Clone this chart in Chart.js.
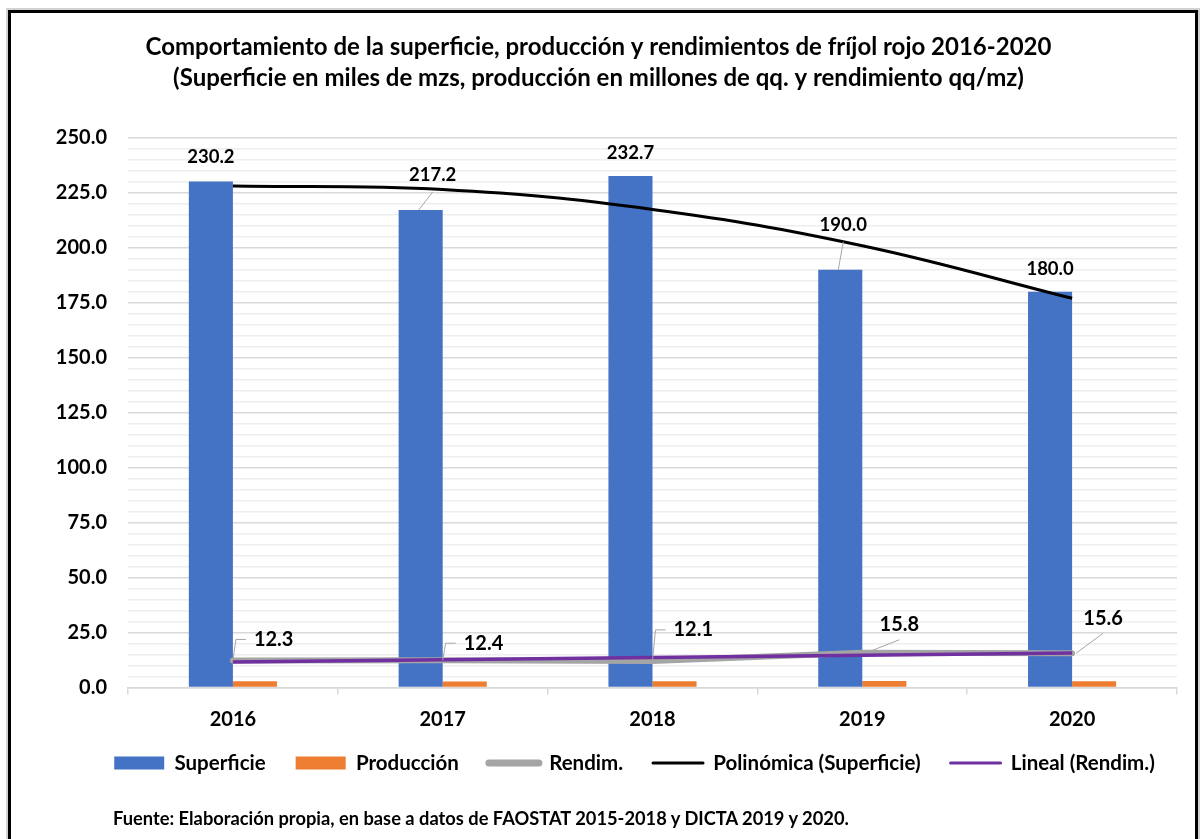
<!DOCTYPE html>
<html lang="es">
<head>
<meta charset="utf-8">
<title>Fríjol rojo 2016-2020</title>
<script src="https://cdn.jsdelivr.net/npm/chart.js@4.4.1/dist/chart.umd.min.js"></script>
<style>
  html, body { margin: 0; padding: 0; background: #fff; }
  body { width: 1201px; height: 839px; position: relative; overflow: hidden; font-family: Lato, sans-serif; }
  #marco { position: absolute; left: 8px; top: 10px; width: 1190px; height: 850px; border: 3px solid #000; box-sizing: border-box; box-shadow: 0 0 0 2px #d2d2d2; }
  #contenedor { position: absolute; left: 0; top: 0; width: 1201px; height: 839px; }
  #fuente { position: absolute; left: 113px; top: 808px; font-weight: bold; font-size: 18.3px; line-height: 20px; color: #000; white-space: nowrap; }
</style>
</head>
<body>
<div id="marco"></div>
<div id="contenedor"><canvas id="grafico"></canvas></div>
<div id="fuente">Fuente: Elaboración propia, en base a datos de FAOSTAT 2015-2018 y DICTA 2019 y 2020.</div>
<script>
// datos
const anios = ['2016', '2017', '2018', '2019', '2020'];
const superficie = [230.2, 217.2, 232.7, 190.0, 180.0];
const produccion = [2.8, 2.7, 2.8, 3.0, 2.8];
const rendimiento = [12.3, 12.4, 12.1, 15.8, 15.6];
const ejeYMin = 0;
const ejeYMax = 250;
const ejeYPaso = 25;

const titulo = [
  'Comportamiento de la superficie, producción y rendimientos de fríjol rojo 2016-2020',
  '(Superficie en miles de mzs, producción en millones de qq. y rendimiento qq/mz)'
];

// linea de tendencia por minimos cuadrados (como Excel), x = 1..n
function tendencia(y, grado) {
  const n = y.length, m = grado + 1;
  const A = [];
  for (let r = 0; r < m; r++) {
    const fila = [];
    for (let c = 0; c < m; c++) {
      let s = 0;
      for (let i = 0; i < n; i++) s += Math.pow(i + 1, r + c);
      fila.push(s);
    }
    let b = 0;
    for (let i = 0; i < n; i++) b += Math.pow(i + 1, r) * y[i];
    fila.push(b);
    A.push(fila);
  }
  for (let k = 0; k < m; k++) {
    for (let r = k + 1; r < m; r++) {
      const f = A[r][k] / A[k][k];
      for (let c = k; c <= m; c++) A[r][c] -= f * A[k][c];
    }
  }
  const coef = new Array(m).fill(0);
  for (let k = m - 1; k >= 0; k--) {
    let s = A[k][m];
    for (let c = k + 1; c < m; c++) s -= A[k][c] * coef[c];
    coef[k] = s / A[k][k];
  }
  return y.map((_, i) => coef.reduce((acc, a, p) => acc + a * Math.pow(i + 1, p), 0));
}

const tendSuperficie = tendencia(superficie, 2);
const tendRendimiento = tendencia(rendimiento, 1);

// ajustes de posicion de etiquetas (pixeles)
const posEtqSuperficie = [[0, -24, false], [12, -35, true], [0, -23, false], [3, -45, true], [0, -23, false]];
const posEtqRendim = [[21, -21, 'codo'], [21, -17, 'codo'], [21, -31, 'codo'], [37, -28, 'recta'], [31, -35, 'recta']];

const etiquetas = {
  id: 'etiquetas',
  afterDatasetsDraw(chart) {
    const ctx = chart.ctx;
    ctx.save();
    ctx.fillStyle = '#000';
    ctx.strokeStyle = '#a6a6a6';
    ctx.lineWidth = 1;

    ctx.font = 'bold 18.5px Lato';
    ctx.textAlign = 'center';
    ctx.textBaseline = 'middle';
    chart.getDatasetMeta(0).data.forEach((barra, i) => {
      const [dx, dy, guia] = posEtqSuperficie[i];
      const lx = barra.x + dx, ly = barra.y + dy;
      if (guia) {
        ctx.beginPath();
        ctx.moveTo(barra.x - 2, barra.y);
        ctx.lineTo(lx, ly + 17);
        ctx.stroke();
      }
      ctx.fillText(superficie[i].toFixed(1), lx, ly);
    });

    ctx.font = 'bold 20px Lato';
    chart.getDatasetMeta(2).data.forEach((p, i) => {
      const [dx, dy, tipo] = posEtqRendim[i];
      const ly = p.y + dy;
      ctx.beginPath();
      if (tipo === 'codo') {
        ctx.moveTo(p.x, p.y);
        ctx.lineTo(p.x + 3, ly);
        ctx.lineTo(p.x + 13, ly);
        ctx.stroke();
        ctx.textAlign = 'left';
        ctx.fillText(rendimiento[i].toFixed(1), p.x + dx, ly);
      } else {
        ctx.moveTo(p.x + 4, p.y);
        ctx.lineTo(p.x + dx, ly + 15);
        ctx.stroke();
        ctx.textAlign = 'center';
        ctx.fillText(rendimiento[i].toFixed(1), p.x + dx, ly);
      }
    });
    ctx.restore();
  }
};

// la leyenda de Excel no esta centrada con el titulo
const moverLeyenda = {
  id: 'moverLeyenda',
  afterLayout(chart) {
    const lg = chart.legend;
    lg.left += 36;
    lg.right += 36;
    const dy = 722.75 - lg.top;
    lg.top += dy;
    lg.bottom += dy;
  }
};

Chart.defaults.font.family = 'Lato';
Chart.defaults.font.weight = 'bold';
Chart.defaults.color = '#000';

new Chart(document.getElementById('grafico'), {
  type: 'bar',
  data: {
    labels: anios,
    datasets: [
      {
        label: 'Superficie',
        data: superficie,
        backgroundColor: '#4472C4',
        order: 10
      },
      {
        label: 'Producción',
        data: produccion,
        backgroundColor: '#ED7D31',
        order: 10
      },
      {
        type: 'line',
        label: 'Rendim.',
        data: rendimiento,
        borderColor: '#A5A5A5',
        borderWidth: 6,
        borderCapStyle: 'round',
        borderJoinStyle: 'round',
        pointRadius: 0,
        tension: 0,
        legendWidth: 7,
        order: 3
      },
      {
        type: 'line',
        label: 'Polinómica (Superficie)',
        data: tendSuperficie,
        borderColor: '#000000',
        borderWidth: 3,
        pointRadius: 0,
        tension: 0.4,
        legendWidth: 3,
        order: 2
      },
      {
        type: 'line',
        label: 'Lineal (Rendim.)',
        data: tendRendimiento,
        borderColor: '#7030A0',
        borderWidth: 3.5,
        pointRadius: 0,
        tension: 0,
        legendWidth: 3,
        order: 1
      }
    ]
  },
  options: {
    responsive: true,
    maintainAspectRatio: false,
    animation: false,
    layout: {
      padding: { left: 20, right: 24, top: 0, bottom: 41 }
    },
    datasets: {
      bar: { categoryPercentage: 0.42, barPercentage: 1.0 }
    },
    plugins: {
      tooltip: { enabled: false },
      title: {
        display: true,
        text: titulo,
        font: { size: 24, weight: 'bold', lineHeight: 1.29 },
        color: '#000',
        padding: { top: 32, bottom: 44 }
      },
      legend: {
        position: 'bottom',
        labels: {
          usePointStyle: true,
          pointStyleWidth: 50,
          boxHeight: 13,
          padding: 30,
          font: { size: 20.5, weight: 'bold' },
          color: '#000',
          generateLabels(chart) {
            return chart.data.datasets.map((ds, i) => {
              const linea = ds.type === 'line';
              const color = linea ? ds.borderColor : ds.backgroundColor;
              return {
                text: ds.label,
                datasetIndex: i,
                fillStyle: color,
                strokeStyle: color,
                lineWidth: linea ? ds.legendWidth : 0,
                lineCap: 'round',
                pointStyle: linea ? 'line' : 'rect',
                hidden: false,
                fontColor: '#000'
              };
            });
          }
        }
      }
    },
    scales: {
      x: {
        grid: {
          offset: true,
          drawOnChartArea: false,
          drawTicks: true,
          tickLength: 7,
          color: '#d9d9d9',
          lineWidth: 1.5
        },
        border: { color: '#d9d9d9', width: 1.5 },
        ticks: { font: { size: 20, weight: 'bold' }, color: '#000', padding: 13 },
        afterFit(scale) { scale.height = 50; }
      },
      y: {
        min: ejeYMin,
        max: ejeYMax,
        border: { display: false },
        grid: {
          drawTicks: false,
          color: (c) => (c.tick && c.tick.value % ejeYPaso === 0) ? '#d9d9d9' : '#eeeeee',
          lineWidth: 1.5
        },
        ticks: {
          stepSize: ejeYPaso / 5,
          autoSkip: false,
          padding: 21,
          font: { size: 20, weight: 'bold' },
          color: '#000',
          callback: (v) => (v % ejeYPaso === 0) ? v.toFixed(1) : ''
        },
        afterFit(scale) { scale.width = 108; }
      }
    }
  },
  plugins: [etiquetas, moverLeyenda]
});
</script>
</body>
</html>
